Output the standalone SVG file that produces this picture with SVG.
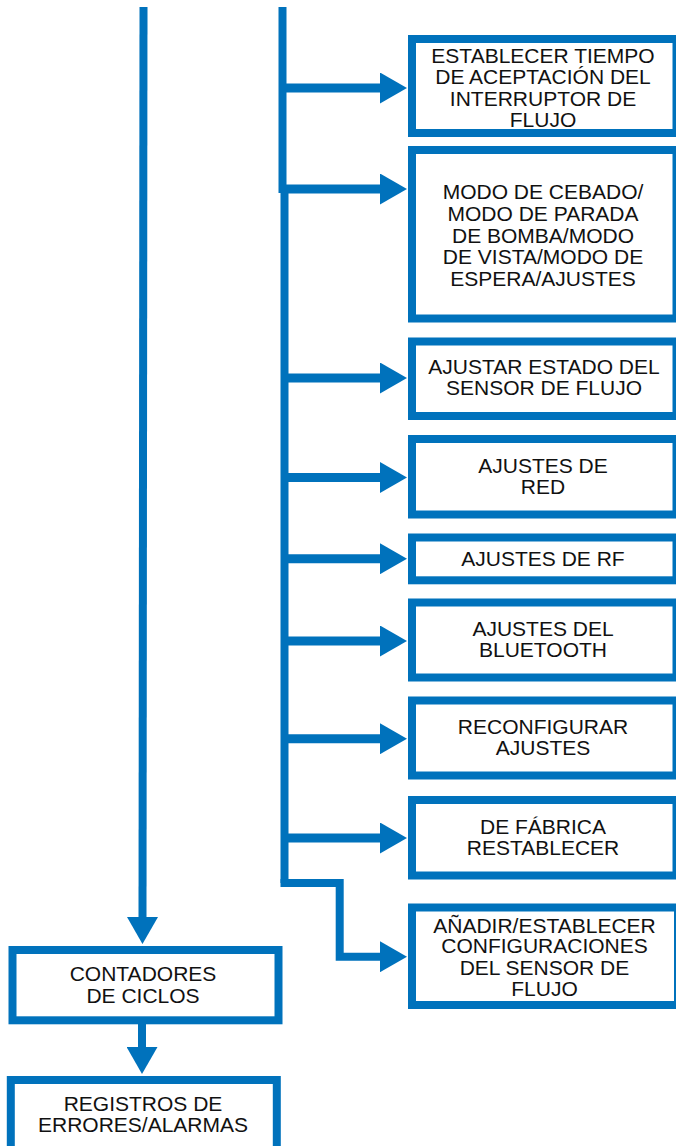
<svg xmlns="http://www.w3.org/2000/svg" width="676" height="1146" viewBox="0 0 676 1146">
<style>
.box{fill:#fff;stroke:#0072BC;stroke-width:8}
.ln{fill:none;stroke:#0072BC;stroke-width:8;stroke-linejoin:miter}
.ar{fill:none;stroke:#0072BC;stroke-width:9}
text{font-family:"Liberation Sans",Arial,sans-serif;font-size:21px;fill:#111;text-anchor:middle}
</style>
<defs>
<marker id="ah" viewBox="0 0 27 31" markerWidth="27" markerHeight="31" refX="1" refY="15.5" markerUnits="userSpaceOnUse" orient="auto">
<path d="M0,0 L27,15.5 L0,31 Z" fill="#0072BC"/>
</marker>
</defs>
<rect width="676" height="1146" fill="#fff"/>
<g id="connectors">
<line class="ln" x1="143.5" y1="7" x2="142.5" y2="918" marker-end="url(#ah)"/>
<line class="ln" x1="142" y1="1022" x2="142" y2="1048" marker-end="url(#ah)"/>
<line class="ln" x1="282.5" y1="7" x2="282.5" y2="193"/>
<line class="ln" x1="284.5" y1="185" x2="284.5" y2="883"/>
<path class="ln" d="M280.5,883 H339.7 V956.7 H381" marker-end="url(#ah)"/>
<line class="ar" x1="282" y1="88" x2="381" y2="88" marker-end="url(#ah)"/>
<line class="ar" x1="282" y1="189" x2="381" y2="189" marker-end="url(#ah)"/>
<line class="ar" x1="284" y1="378" x2="381" y2="378" marker-end="url(#ah)"/>
<line class="ar" x1="284" y1="477.5" x2="381" y2="477.5" marker-end="url(#ah)"/>
<line class="ar" x1="284" y1="558.7" x2="381" y2="558.7" marker-end="url(#ah)"/>
<line class="ar" x1="284" y1="641" x2="381" y2="641" marker-end="url(#ah)"/>
<line class="ar" x1="284" y1="738.7" x2="381" y2="738.7" marker-end="url(#ah)"/>
<line class="ar" x1="284" y1="838" x2="381" y2="838" marker-end="url(#ah)"/>
</g>
<g id="n1"><rect class="box" x="412" y="39" width="264.5" height="94"/>
<text x="543" y="62.7">ESTABLECER TIEMPO</text><text x="543" y="84.3">DE ACEPTACIÓN DEL</text><text x="543" y="106">INTERRUPTOR DE</text><text x="543" y="126.7">FLUJO</text></g>
<g id="n2"><rect class="box" x="412" y="150" width="264.5" height="168.5"/>
<text x="543" y="199.3">MODO DE CEBADO/</text><text x="543" y="221">MODO DE PARADA</text><text x="543" y="242.7">DE BOMBA/MODO</text><text x="543" y="264.3">DE VISTA/MODO DE</text><text x="543" y="285.5">ESPERA/AJUSTES</text></g>
<g id="n3"><rect class="box" x="412" y="341.5" width="264.5" height="74.5"/>
<text x="544" y="374.3">AJUSTAR ESTADO DEL</text><text x="544" y="395">SENSOR DE FLUJO</text></g>
<g id="n4"><rect class="box" x="412" y="439" width="264.5" height="75.5"/>
<text x="543" y="473.3">AJUSTES DE</text><text x="543" y="494.3">RED</text></g>
<g id="n5"><rect class="box" x="412" y="537.5" width="264.5" height="42.8"/>
<text x="543" y="566">AJUSTES DE RF</text></g>
<g id="n6"><rect class="box" x="412" y="602.5" width="264.5" height="75"/>
<text x="543" y="635.7">AJUSTES DEL</text><text x="543" y="657.3">BLUETOOTH</text></g>
<g id="n7"><rect class="box" x="412" y="700.5" width="264.5" height="75"/>
<text x="543" y="734">RECONFIGURAR</text><text x="543" y="755">AJUSTES</text></g>
<g id="n8"><rect class="box" x="412" y="800" width="264.5" height="75.5"/>
<text x="543" y="834">DE FÁBRICA</text><text x="543" y="855">RESTABLECER</text></g>
<g id="n9"><rect class="box" x="412" y="907.5" width="266" height="97.5"/>
<text x="544.5" y="932.7">AÑADIR/ESTABLECER</text><text x="544.5" y="953.3">CONFIGURACIONES</text><text x="544.5" y="975">DEL SENSOR DE</text><text x="544.5" y="996">FLUJO</text></g>
<g id="n10"><rect class="box" x="12.5" y="950" width="266" height="70.3"/>
<text x="143" y="981">CONTADORES</text><text x="143" y="1003.3">DE CICLOS</text></g>
<g id="n11"><rect class="box" x="10.8" y="1080" width="266" height="90"/>
<text x="143" y="1111">REGISTROS DE</text><text x="143" y="1131.7">ERRORES/ALARMAS</text></g>
</svg>
